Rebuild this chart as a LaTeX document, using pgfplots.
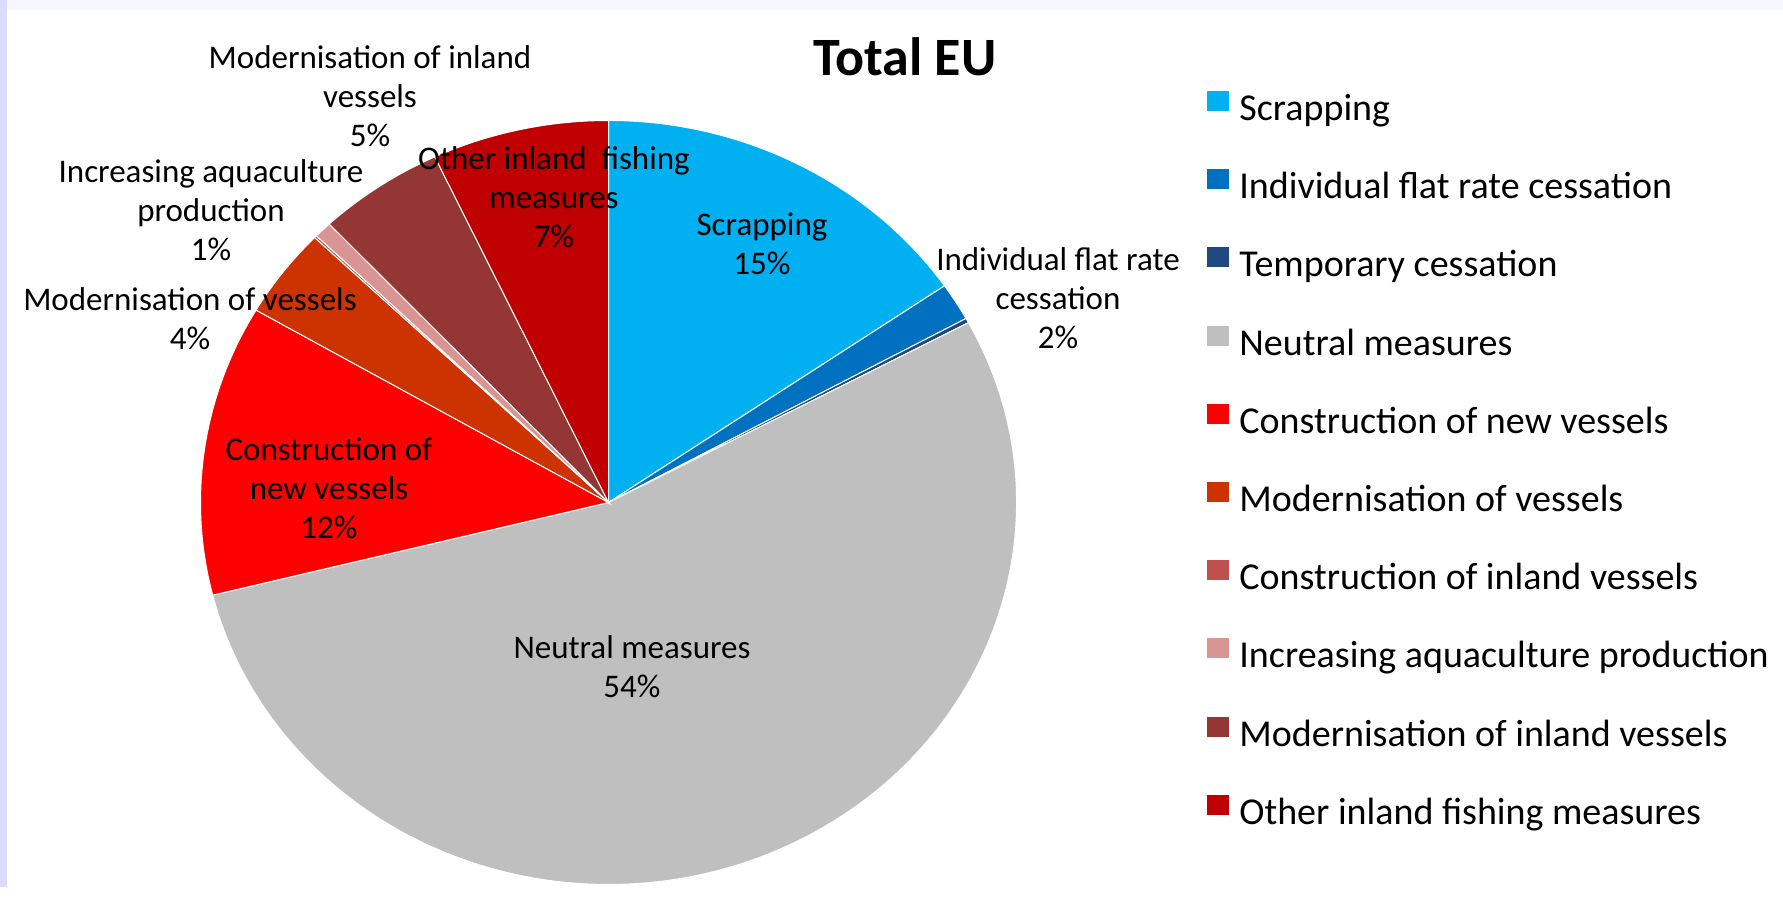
\documentclass[border=0pt]{standalone}
\usepackage{pgfplots}
\pgfplotsset{compat=1.18}
\usepackage{pgfplotstable}
\usepackage{fontspec}
\setmainfont{Carlito}

% slice colours, clockwise from 12 o'clock
\definecolor{sl0}{HTML}{00B0F0}
\definecolor{sl1}{HTML}{0070C0}
\definecolor{sl2}{HTML}{1F497D}
\definecolor{sl3}{HTML}{BFBFBF}
\definecolor{sl4}{HTML}{FF0000}
\definecolor{sl5}{HTML}{CC3300}
\definecolor{sl6}{HTML}{C0504D}
\definecolor{sl7}{HTML}{D99594}
\definecolor{sl8}{HTML}{943634}
\definecolor{sl9}{HTML}{C00000}

% share of each measure in %
\pgfplotstableread{
value
15.4
1.6
0.2
53.9
12.3
3.8
0.1
0.7
5.0
7.0
}\slices

\begin{document}
\begin{tikzpicture}
\begin{axis}[
  width=891.5pt, height=443.5pt, scale only axis,
  xmin=0, xmax=1783, ymin=0, ymax=887,
  hide axis, clip=false,
  legend cell align=left,
  legend style={at={(axis cs:1206.7,796.3)}, anchor=north west,
    draw=none, fill=none, inner sep=0pt,
    font=\fontsize{19}{22}\selectfont,
    nodes={inner sep=0pt, text height=13pt, text depth=4pt},
    /tikz/row sep=20.4pt, /tikz/column sep=5.35pt},
  legend image code/.code={\fill[#1, draw=none] (0pt,0.2pt) rectangle (10.8pt,10.2pt);},
]
  % page background
  \fill[fill=blue!3] (axis cs:0,0) rectangle (axis cs:1783,887);
  \fill[fill=blue!14] (axis cs:0,0) rectangle (axis cs:7,887);
  \fill[white] (axis cs:7,0) rectangle (axis cs:1783,877);

  \def\cum{90}
  \pgfplotsforeachungrouped \i in {0,...,9}{%
    \pgfplotstablegetelem{\i}{value}\of\slices
    \pgfmathsetmacro\angA{\cum}%
    \pgfmathsetmacro\angB{\cum-3.6*\pgfplotsretval}%
    \pgfmathsetmacro\xs{608.5+408*cos(\angA)}%
    \pgfmathsetmacro\ys{384.5+382*sin(\angA)}%
    \edef\tmp{\noexpand\addplot[fill=sl\i, draw=white, line width=0.5pt]
      coordinates {(608.5,384.5) (\xs,\ys)}
      arc[start angle=\angA, end angle=\angB, x radius=204pt, y radius=191pt] -- cycle;}%
    \tmp
    \let\cum\angB
  }

  \legend{Scrapping, Individual flat rate cessation, Temporary cessation,
    Neutral measures, Construction of new vessels, Modernisation of vessels,
    Construction of inland vessels, Increasing aquaculture production,
    Modernisation of inland vessels, Other inland fishing measures}

  \node[font=\fontsize{27}{30}\selectfont\bfseries] at (axis cs:905,830) {Total EU};

  \begin{scope}[every node/.style={align=center, inner sep=0pt,
      font=\fontsize{16.5}{19.5}\selectfont}]
    \node at (axis cs:762,643) {Scrapping\\15\%};
    \node at (axis cs:1058,589) {Individual flat rate\\cessation\\2\%};
    \node at (axis cs:632,220.5) {Neutral measures\\54\%};
    \node at (axis cs:329,399) {Construction of\\new vessels\\12\%};
    \node at (axis cs:190,568.5) {Modernisation of vessels\\4\%};
    \node at (axis cs:211,677) {Increasing aquaculture\\production\\1\%};
    \node at (axis cs:370,791) {Modernisation of inland\\vessels\\5\%};
    \node at (axis cs:554,690) {Other inland\ \ fishing\\measures\\7\%};
  \end{scope}
\end{axis}
\end{tikzpicture}
\end{document}
